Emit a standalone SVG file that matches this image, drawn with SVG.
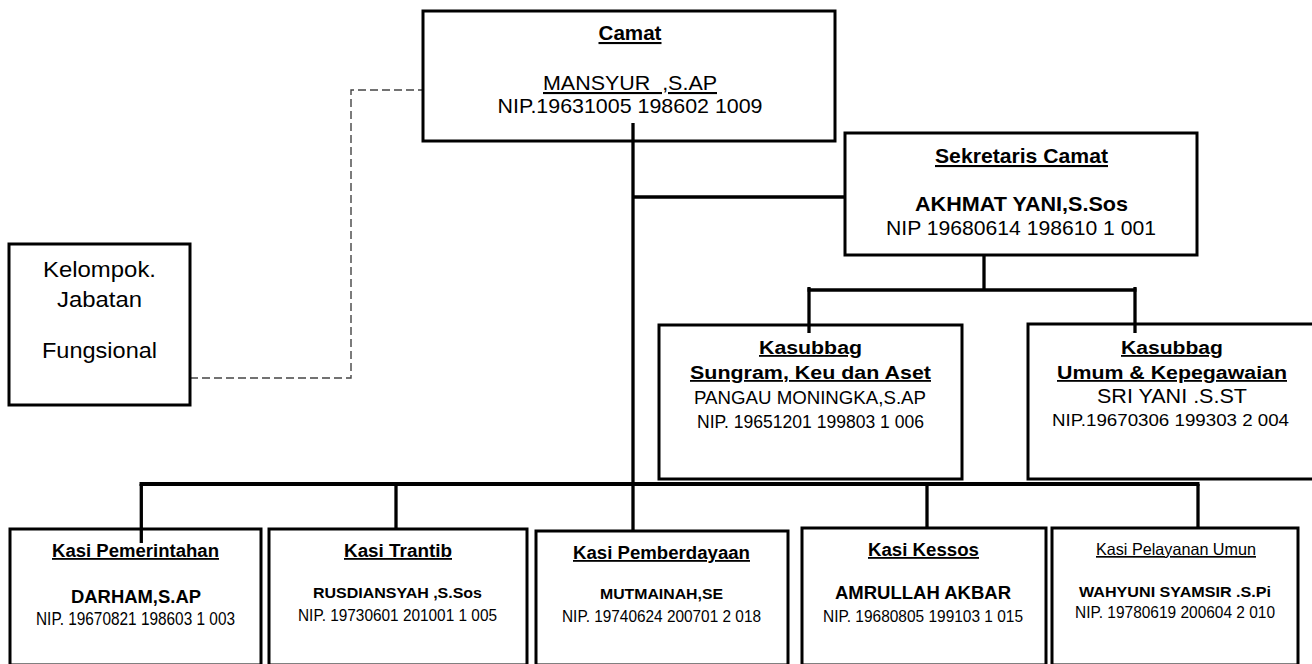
<svg xmlns="http://www.w3.org/2000/svg" width="1312" height="664" viewBox="0 0 1312 664">
<style>
  .box { fill: #fff; stroke: #000; stroke-width: 3; }
  .t { font-family: "Liberation Sans", Arial, sans-serif; fill: #000; text-anchor: middle; }
  .b { font-weight: bold; }
  .u { text-decoration: underline; }
  .ln { stroke: #000; stroke-width: 3.3; fill: none; }
  .bar { stroke: #000; stroke-width: 4.2; fill: none; }
  .dash { stroke: #444; stroke-width: 1.4; fill: none; stroke-dasharray: 8 4; }
</style>
<rect width="1312" height="664" fill="#fff"/>

<g id="connectors">
  <path class="dash" d="M190 378 H351 V90 H423"/>
  <path class="ln" d="M633 123 V531"/>
  <path class="ln" d="M633 197 H845"/>
  <path class="ln" d="M984 255 V290"/>
  <path class="ln" d="M807.5 290 H1136.5"/>
  <path class="ln" d="M809 287 V333"/>
  <path class="ln" d="M1135 287 V333"/>
  <path class="bar" d="M139.5 484 H1199.5"/>
  <path class="ln" d="M141.3 484 V543"/>
  <path class="ln" d="M396 484 V529"/>
  <path class="ln" d="M927 484 V528"/>
  <path class="ln" d="M1198 484 V528"/>
</g>

<g id="camat">
  <rect class="box" x="423" y="11" width="412" height="130"/>
  <text class="t b u" x="630" y="40" font-size="21" textLength="63" lengthAdjust="spacingAndGlyphs">Camat</text>
  <text class="t u" x="630" y="90" font-size="21" textLength="174" lengthAdjust="spacingAndGlyphs" xml:space="preserve">MANSYUR  ,S.AP</text>
  <text class="t" x="630" y="113" font-size="21" textLength="265" lengthAdjust="spacingAndGlyphs">NIP.19631005 198602 1009</text>
</g>
<!-- redraw Camat vertical stub over box -->
<g id="camat-stub"><path class="ln" d="M633 123 V141"/></g>

<g id="sekretaris">
  <rect class="box" x="845" y="133" width="352" height="122"/>
  <text class="t b u" x="1021.5" y="163" font-size="21" textLength="173" lengthAdjust="spacingAndGlyphs">Sekretaris Camat</text>
  <text class="t b" x="1021.5" y="211" font-size="21" textLength="213" lengthAdjust="spacingAndGlyphs">AKHMAT YANI,S.Sos</text>
  <text class="t" x="1021" y="235" font-size="21" textLength="270" lengthAdjust="spacingAndGlyphs">NIP 19680614 198610 1 001</text>
</g>

<g id="kelompok">
  <rect class="box" x="9" y="244" width="181" height="161"/>
  <text class="t" x="99.5" y="277" font-size="22.5" textLength="113" lengthAdjust="spacingAndGlyphs">Kelompok.</text>
  <text class="t" x="99.5" y="307" font-size="22.5" textLength="85" lengthAdjust="spacingAndGlyphs">Jabatan</text>
  <text class="t" x="99.5" y="358" font-size="22.5" textLength="115" lengthAdjust="spacingAndGlyphs">Fungsional</text>
</g>

<g id="kasubbag-sungram">
  <rect class="box" x="659" y="325" width="303" height="154"/>
  <text class="t b u" x="810.5" y="354" font-size="18" textLength="103" lengthAdjust="spacingAndGlyphs">Kasubbag</text>
  <text class="t b u" x="810.5" y="379" font-size="18" textLength="241" lengthAdjust="spacingAndGlyphs">Sungram, Keu dan Aset</text>
  <text class="t" x="810" y="404" font-size="18" textLength="232" lengthAdjust="spacingAndGlyphs">PANGAU MONINGKA,S.AP</text>
  <text class="t" x="810.5" y="428" font-size="18" textLength="227" lengthAdjust="spacingAndGlyphs">NIP. 19651201 199803 1 006</text>
</g>

<g id="kasubbag-umum">
  <rect class="box" x="1028" y="324" width="290" height="155"/>
  <text class="t b u" x="1172" y="354" font-size="18" textLength="102" lengthAdjust="spacingAndGlyphs">Kasubbag</text>
  <text class="t b u" x="1172" y="379" font-size="18" textLength="230" lengthAdjust="spacingAndGlyphs">Umum &amp; Kepegawaian</text>
  <text class="t" x="1172" y="403" font-size="19.5" textLength="150" lengthAdjust="spacingAndGlyphs">SRI YANI .S.ST</text>
  <text class="t" x="1170.5" y="426" font-size="16" textLength="237" lengthAdjust="spacingAndGlyphs">NIP.19670306 199303 2 004</text>
</g>
<g id="kasubbag-stubs">
  <path class="ln" d="M809 325 V333"/>
  <path class="ln" d="M1135 324 V333"/>
</g>

<g id="kasi-pemerintahan">
  <rect class="box" x="10" y="529" width="251" height="136"/>
  <text class="t b u" x="135.5" y="557" font-size="18" textLength="167" lengthAdjust="spacingAndGlyphs">Kasi Pemerintahan</text>
  <text class="t b" x="136" y="603" font-size="18" textLength="130" lengthAdjust="spacingAndGlyphs">DARHAM,S.AP</text>
  <text class="t" x="135.5" y="625" font-size="18.5" textLength="199" lengthAdjust="spacingAndGlyphs">NIP. 19670821 198603 1 003</text>
</g>
<g id="pemerintahan-stub"><path class="ln" d="M141.3 529 V543"/></g>

<g id="kasi-trantib">
  <rect class="box" x="269" y="529" width="258" height="136"/>
  <text class="t b u" x="398" y="557" font-size="18" textLength="108" lengthAdjust="spacingAndGlyphs">Kasi Trantib</text>
  <text class="t b" x="397.5" y="598" font-size="15" textLength="169" lengthAdjust="spacingAndGlyphs">RUSDIANSYAH ,S.Sos</text>
  <text class="t" x="397.5" y="621" font-size="17" textLength="199" lengthAdjust="spacingAndGlyphs">NIP. 19730601 201001 1 005</text>
</g>

<g id="kasi-pemberdayaan">
  <rect class="box" x="536" y="531" width="252" height="134"/>
  <text class="t b u" x="661.5" y="559" font-size="18" textLength="177" lengthAdjust="spacingAndGlyphs">Kasi Pemberdayaan</text>
  <text class="t b" x="661.5" y="599" font-size="14" textLength="123" lengthAdjust="spacingAndGlyphs">MUTMAINAH,SE</text>
  <text class="t" x="661.5" y="622" font-size="16.5" textLength="199" lengthAdjust="spacingAndGlyphs">NIP. 19740624 200701 2 018</text>
</g>

<g id="kasi-kessos">
  <rect class="box" x="802" y="528" width="244" height="137"/>
  <text class="t b u" x="923.5" y="556" font-size="18" textLength="111" lengthAdjust="spacingAndGlyphs">Kasi Kessos</text>
  <text class="t b" x="923" y="599" font-size="18" textLength="176" lengthAdjust="spacingAndGlyphs">AMRULLAH AKBAR</text>
  <text class="t" x="923" y="622" font-size="16.5" textLength="200" lengthAdjust="spacingAndGlyphs">NIP. 19680805 199103 1 015</text>
</g>

<g id="kasi-pelayanan">
  <rect class="box" x="1052" y="528" width="246" height="137"/>
  <text class="t u" x="1176" y="555" font-size="16.5" textLength="160" lengthAdjust="spacingAndGlyphs">Kasi Pelayanan Umun</text>
  <text class="t b" x="1175" y="597" font-size="15" textLength="192" lengthAdjust="spacingAndGlyphs">WAHYUNI SYAMSIR .S.Pi</text>
  <text class="t" x="1175" y="618" font-size="16.5" textLength="200" lengthAdjust="spacingAndGlyphs">NIP. 19780619 200604 2 010</text>
</g>
</svg>
